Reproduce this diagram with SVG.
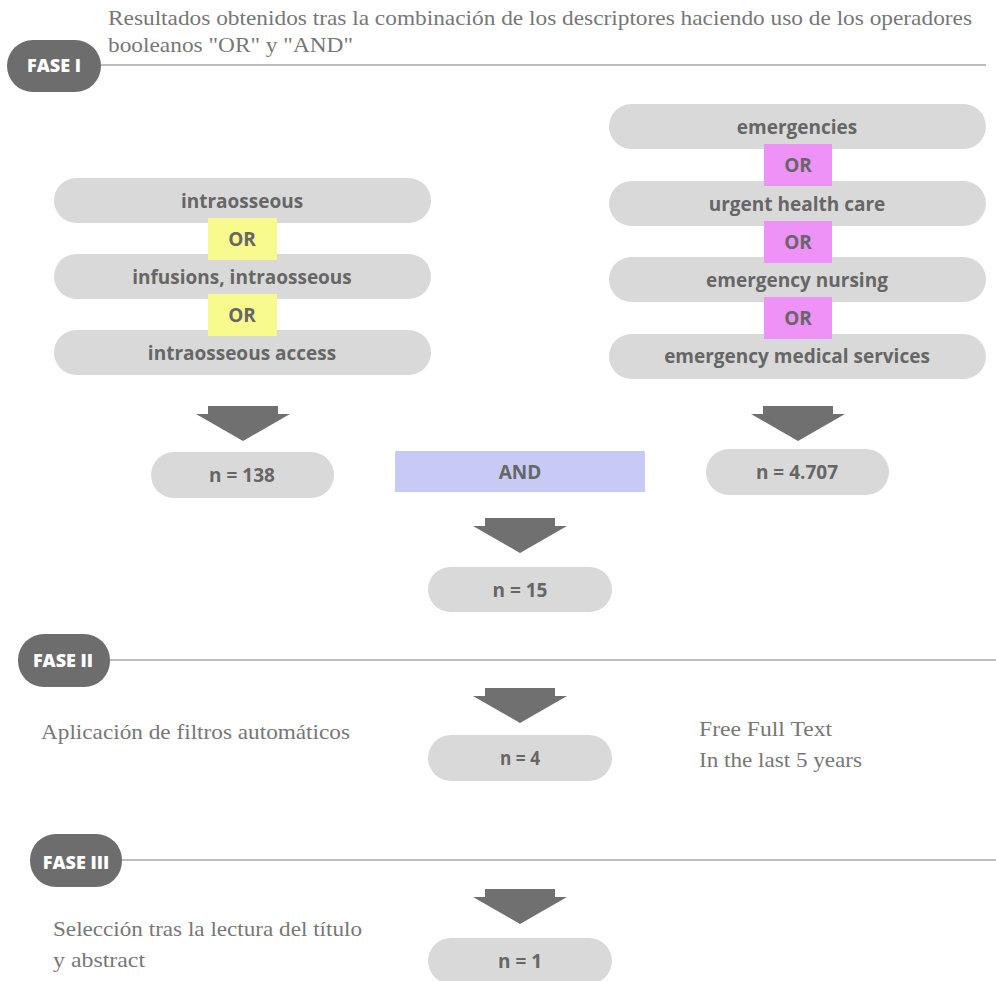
<svg xmlns="http://www.w3.org/2000/svg" width="996" height="981" viewBox="0 0 996 981">
<defs>
<style>
.pill{fill:#d9d9d9}
.fase{fill:#6d6d6d}
.lbl{font-family:"Open Sans","Liberation Sans",sans-serif;font-weight:700;font-size:19px;fill:#666;text-anchor:middle}
.fl{font-family:"Open Sans","Liberation Sans",sans-serif;font-weight:800;font-size:18px;fill:#fff;text-anchor:middle}
.ser{font-family:"Liberation Serif","Times New Roman",serif;font-size:22px;fill:#777}
.rule{stroke:#bdbdbd;stroke-width:2;fill:none}
.yel{fill:#f8fa8e}
.mag{fill:#ee92f8}
.and{fill:#c6caf4}
.arr{fill:#707070}
</style>
<path id="arrow" d="M12,0 H82 V8 H94 L47,35 L0,8 H12 Z"/>
</defs>
<rect width="996" height="981" fill="#fff"/>

<g id="header">
<text class="ser" x="108" y="25" textLength="864" lengthAdjust="spacingAndGlyphs">Resultados obtenidos tras la combinación de los descriptores haciendo uso de los operadores</text>
<text class="ser" x="108" y="52" textLength="245" lengthAdjust="spacingAndGlyphs">booleanos "OR" y "AND"</text>
</g>

<g id="rules">
<line class="rule" x1="98" y1="65" x2="986" y2="65"/>
<line class="rule" x1="108" y1="660" x2="996" y2="660"/>
<line class="rule" x1="120" y1="860" x2="996" y2="860"/>
</g>

<g id="fase1"><rect class="fase" x="7" y="40" width="94" height="52" rx="26"/><text class="fl" x="54" y="72">FASE I</text></g>
<g id="fase2"><rect class="fase" x="18" y="634" width="92" height="53" rx="26"/><text class="fl" x="63" y="667">FASE II</text></g>
<g id="fase3"><rect class="fase" x="30" y="834" width="92" height="53" rx="26"/><text class="fl" x="76" y="869">FASE III</text></g>

<g id="intraosseous"><rect class="pill" x="54" y="178" width="377" height="45" rx="22.5"/><text class="lbl" x="242" y="208">intraosseous</text></g>
<g id="infusions"><rect class="pill" x="54" y="254" width="377" height="45" rx="22.5"/><text class="lbl" x="242" y="284">infusions, intraosseous</text></g>
<g id="access"><rect class="pill" x="54" y="330" width="377" height="45" rx="22.5"/><text class="lbl" x="242" y="360">intraosseous access</text></g>
<g id="or-l1"><rect class="yel" x="208" y="218" width="69" height="42"/><text class="lbl" x="242" y="246" font-size="17">OR</text></g>
<g id="or-l2"><rect class="yel" x="208" y="294" width="69" height="42"/><text class="lbl" x="242" y="322" font-size="17">OR</text></g>

<g id="emergencies"><rect class="pill" x="609" y="104" width="377" height="45" rx="22.5"/><text class="lbl" x="797" y="134">emergencies</text></g>
<g id="urgent"><rect class="pill" x="609" y="181" width="377" height="45" rx="22.5"/><text class="lbl" x="797" y="211">urgent health care</text></g>
<g id="nursing"><rect class="pill" x="609" y="257" width="377" height="45" rx="22.5"/><text class="lbl" x="797" y="287">emergency nursing</text></g>
<g id="ems"><rect class="pill" x="609" y="334" width="377" height="45" rx="22.5"/><text class="lbl" x="797" y="363">emergency medical services</text></g>
<g id="or-r1"><rect class="mag" x="764" y="144" width="68" height="42"/><text class="lbl" x="798" y="172" font-size="17">OR</text></g>
<g id="or-r2"><rect class="mag" x="764" y="221" width="68" height="42"/><text class="lbl" x="798" y="249" font-size="17">OR</text></g>
<g id="or-r3"><rect class="mag" x="764" y="297" width="68" height="42"/><text class="lbl" x="798" y="325" font-size="17">OR</text></g>

<g id="connectors" class="arr">
<use href="#arrow" x="196" y="406"/>
<use href="#arrow" x="751" y="406"/>
<use href="#arrow" x="473" y="518"/>
<use href="#arrow" x="473" y="688"/>
<use href="#arrow" x="473" y="889"/>
</g>

<g id="n138"><rect class="pill" x="151" y="452" width="183" height="46" rx="23"/><text class="lbl" x="242" y="482">n = 138</text></g>
<g id="and"><rect class="and" x="395" y="451" width="250" height="41"/><text class="lbl" x="520" y="479" font-size="18">AND</text></g>
<g id="n4707"><rect class="pill" x="706" y="449" width="183" height="46" rx="23"/><text class="lbl" x="797" y="479">n = 4.707</text></g>
<g id="n15"><rect class="pill" x="428" y="567" width="184" height="45" rx="22.5"/><text class="lbl" x="520" y="597">n = 15</text></g>

<g id="n4"><rect class="pill" x="428" y="735" width="184" height="46" rx="23"/><text class="lbl" x="520" y="765" font-size="18" textLength="40" lengthAdjust="spacingAndGlyphs">n = 4</text></g>
<g id="filtros"><text class="ser" x="41" y="739" textLength="309" lengthAdjust="spacingAndGlyphs">Aplicación de filtros automáticos</text></g>
<g id="free"><text class="ser" x="699" y="736" textLength="133" lengthAdjust="spacingAndGlyphs">Free Full Text</text><text class="ser" x="699" y="767" textLength="163" lengthAdjust="spacingAndGlyphs">In the last 5 years</text></g>

<g id="n1"><rect class="pill" x="428" y="938" width="184" height="46" rx="23"/><text class="lbl" x="520" y="968" font-size="18">n = 1</text></g>
<g id="seleccion"><text class="ser" x="53" y="936" textLength="309" lengthAdjust="spacingAndGlyphs">Selección tras la lectura del título</text><text class="ser" x="53" y="967" textLength="92" lengthAdjust="spacingAndGlyphs">y abstract</text></g>
</svg>
